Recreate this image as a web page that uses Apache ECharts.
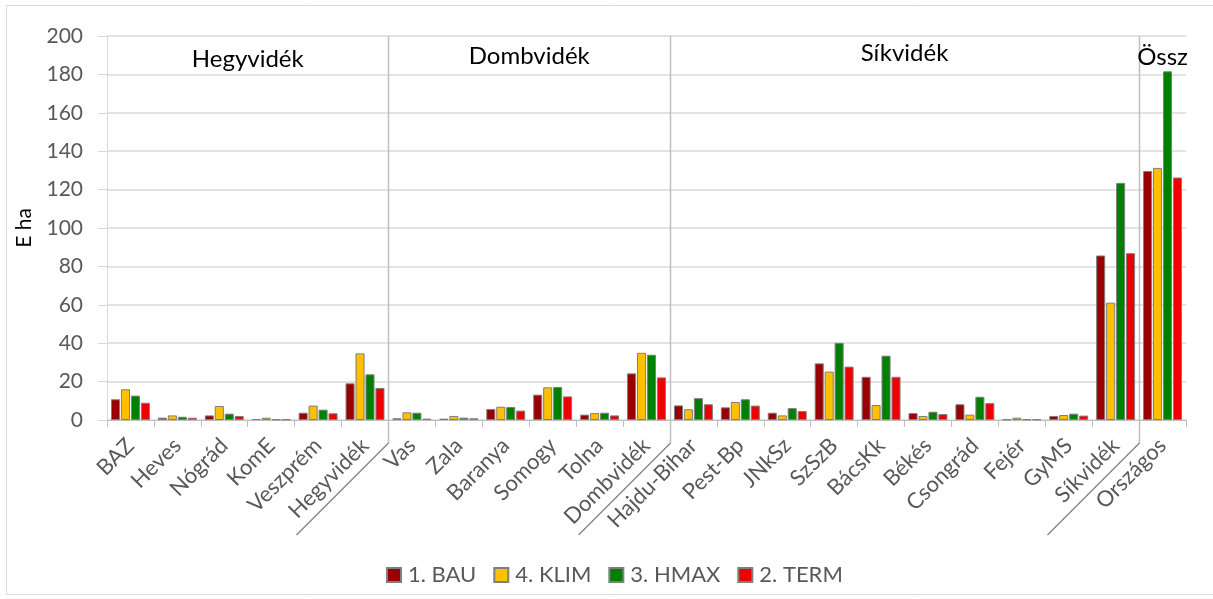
<!DOCTYPE html>
<html>
<head>
<meta charset="utf-8">
<script src="https://cdn.jsdelivr.net/npm/echarts@6/dist/echarts.min.js"></script>
<style>
  html, body { margin: 0; padding: 0; background: #fff; }
  #chart { width: 1213px; height: 599px; }
</style>
</head>
<body>
<div id="chart"></div>
<script>
const categories = ['BAZ', 'Heves', 'Nógrád', 'KomE', 'Veszprém', 'Hegyvidék',
  'Vas', 'Zala', 'Baranya', 'Somogy', 'Tolna', 'Dombvidék',
  'Hajdu-Bihar', 'Pest-Bp', 'JNkSz', 'SzSzB', 'BácsKk', 'Békés', 'Csongrád', 'Fejér', 'GyMS', 'Síkvidék',
  'Országos']

const bau  = [10.8, 1.2, 2.4, 0.5, 3.8, 19.1,  0.9, 0.7, 5.7, 13.2, 2.8, 24.3,  7.6, 6.6, 3.8, 29.5, 22.5, 3.6, 8.2, 0.3, 2.1, 85.7,  129.7]
const klim = [16.0, 2.4, 7.3, 1.2, 7.5, 34.7,  4.0, 2.1, 6.9, 17.0, 3.6, 35.0,  5.6, 9.4, 2.4, 25.2, 7.8, 2.1, 2.8, 1.2, 2.6, 61.1,  131.3]
const hmax = [12.7, 1.7, 3.3, 0.3, 5.4, 23.8,  3.8, 1.2, 6.8, 17.2, 3.8, 34.0,  11.4, 10.8, 6.2, 40.2, 33.5, 4.3, 12.1, 0.3, 3.3, 123.5,  181.6]
const term = [9.0, 1.2, 2.1, 0.3, 3.5, 16.7,  0.7, 0.9, 4.9, 12.3, 2.4, 22.2,  8.2, 7.5, 4.7, 27.8, 22.5, 3.1, 8.8, 0.3, 2.3, 86.9,  126.3]

const seriesNames = ['1. BAU', '4. KLIM', '3. HMAX', '2. TERM']
const seriesValues = [bau, klim, hmax, term]
const seriesColors = ['#990000', '#FFC000', '#008000', '#EE0000']

// region labels on top: first and last category index
const sections = [
  { name: 'Hegyvidék', from: 0, to: 5, dy: 2 },
  { name: 'Dombvidék', from: 6, to: 11, dy: -1 },
  { name: 'Síkvidék', from: 12, to: 21, dy: -4 },
  { name: 'Össz', from: 22, to: 22, dy: 0 },
]
// boundaries that get the divider + slanted underline
const dividers = [6, 12, 22]

const yMin = 0, yMax = 200, yStep = 20

const chart = echarts.init(document.getElementById('chart'))
const font = 'Lato, "Open Sans", sans-serif'

const option = {
  animation: false,
  textStyle: { fontFamily: font },
  grid: { left: 107, right: 27, top: 36, bottom: 179, containLabel: false },
  legend: {
    bottom: 8,
    left: 381,
    itemWidth: 14,
    itemHeight: 14,
    itemGap: 17,
    icon: 'rect',
    textStyle: { fontSize: 22, color: '#595959', fontFamily: font, padding: [0, 0, 0, 2] },
    data: seriesNames
  },
  xAxis: {
    type: 'category',
    data: categories,
    axisLine: { lineStyle: { color: '#bfbfbf' } },
    axisTick: { show: true, length: 7, lineStyle: { color: '#bfbfbf' } },
    axisLabel: { rotate: 45, fontSize: 22, color: '#595959', margin: 22, interval: 0 },
    splitLine: { show: false }
  },
  yAxis: {
    type: 'value',
    min: yMin,
    max: yMax,
    interval: yStep,
    name: 'E ha',
    nameLocation: 'middle',
    nameGap: 72,
    nameTextStyle: { fontSize: 21, color: '#000' },
    axisLine: { show: true, lineStyle: { color: '#d9d9d9' } },
    axisTick: { show: true, length: 9, lineStyle: { color: '#d9d9d9' } },
    axisLabel: { fontSize: 21, color: '#595959', margin: 24 },
    splitLine: { lineStyle: { color: '#d9d9d9', width: 1.5 } }
  },
  series: seriesNames.map((name, i) => ({
    name,
    type: 'bar',
    data: seriesValues[i],
    barCategoryGap: '17%',
    barGap: '10%',
    itemStyle: { color: seriesColors[i], borderColor: '#7f7f7f', borderWidth: 1 }
  }))
}

chart.setOption(option)

// decorations placed from the axis scale
const x0 = chart.convertToPixel({ xAxisIndex: 0 }, categories[0])
const band = chart.convertToPixel({ xAxisIndex: 0 }, categories[1]) - x0
const boundary = (i) => x0 + (i - 0.5) * band
const topY = chart.convertToPixel({ yAxisIndex: 0 }, yMax)
const baseY = chart.convertToPixel({ yAxisIndex: 0 }, yMin)

const graphics = []
graphics.push({
  type: 'rect', silent: true, z: -10,
  shape: { x: 6.5, y: 5.5, width: 1400, height: 589 },
  style: { fill: 'none', stroke: '#d9d9d9', lineWidth: 1 }
})
dividers.forEach((i) => {
  const x = Math.round(boundary(i)) + 0.5
  graphics.push({
    type: 'line', silent: true, z: 5,
    shape: { x1: x, y1: topY, x2: x, y2: baseY + 23 },
    style: { stroke: '#bfbfbf', lineWidth: 1.5 }
  })
  graphics.push({
    type: 'line', silent: true, z: 5,
    shape: { x1: x, y1: baseY + 23, x2: x - 92, y2: baseY + 115 },
    style: { stroke: '#808080', lineWidth: 1.2 }
  })
})
sections.forEach((s) => {
  const cx = (boundary(s.from) + boundary(s.to + 1)) / 2
  graphics.push({
    type: 'text', silent: true, z: 6,
    x: cx, y: topY + 21 + s.dy,
    style: {
      text: s.name, fontSize: 24, fontFamily: font, fill: '#000',
      align: 'center', verticalAlign: 'middle'
    }
  })
})

chart.setOption({ graphic: graphics })
</script>
</body>
</html>
